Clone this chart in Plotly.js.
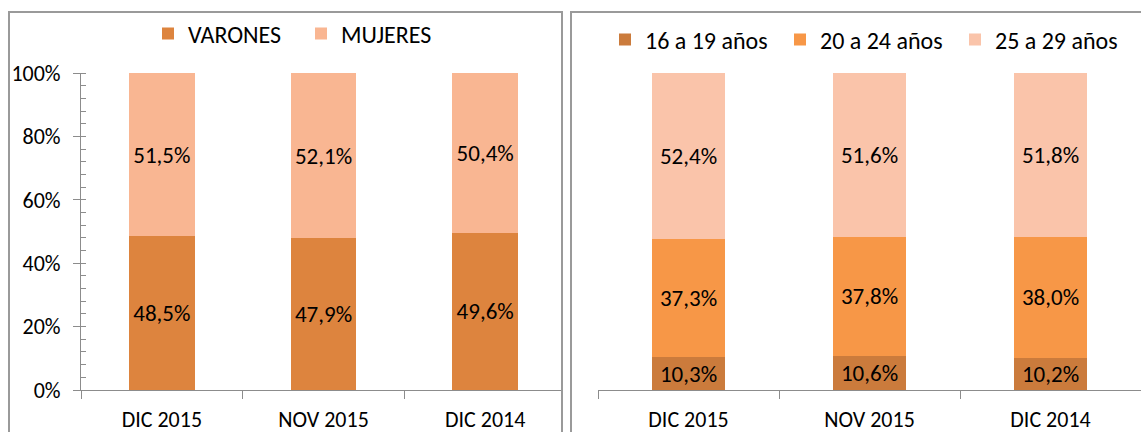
<!DOCTYPE html>
<html><head><meta charset="utf-8">
<script src="https://cdn.plot.ly/plotly-3.0.1.min.js"></script>
<style>html,body{margin:0;padding:0;background:#fff}#chart{width:1141px;height:432px}</style>
</head><body><div id="chart"></div>
<script>
// ---- data ----
const categories = ['DIC 2015', 'NOV 2015', 'DIC 2014'];
const varones = [48.5, 47.9, 49.6];
const mujeres = [51.5, 52.1, 50.4];
const edad16a19 = [10.3, 10.6, 10.2];
const edad20a24 = [37.3, 37.8, 38.0];
const edad25a29 = [52.4, 51.6, 51.8];
const yTickValues = [0, 20, 40, 60, 80, 100];
const yTickLabels = ['0%', '20%', '40%', '60%', '80%', '100%'];
const seriesNamesLeft = ['VARONES', 'MUJERES'];
const seriesNamesRight = ['16 a 19 años', '20 a 24 años', '25 a 29 años'];

// ---- layout helpers ----
const W = 1141, H = 432;
const px = x => x / W;
const py = y => 1 - y / H;
const FONT = 'Carlito, Lato, "Open Sans", sans-serif';
const axisGray = '#8c8c8c';

function barTrace(vals, name, color, xa, ya, leg) {
  return {
    type: 'bar', x: categories, y: vals, name: name,
    xaxis: xa, yaxis: ya, legend: leg,
    marker: {color: color, line: {width: 0}},
    texttemplate: '%{y:.1f}%', textposition: 'inside',
    insidetextanchor: 'middle', textangle: 0, constraintext: 'none',
    textfont: {family: FONT, size: 23, color: '#000'},
    hoverinfo: 'skip'
  };
}

const data = [
  barTrace(varones, seriesNamesLeft[0], '#DD843E', 'x', 'y', 'legend'),
  barTrace(mujeres, seriesNamesLeft[1], '#F9B692', 'x', 'y', 'legend'),
  barTrace(edad16a19, seriesNamesRight[0], '#CB7B3C', 'x2', 'y2', 'legend2'),
  barTrace(edad20a24, seriesNamesRight[1], '#F79747', 'x2', 'y2', 'legend2'),
  barTrace(edad25a29, seriesNamesRight[2], '#FAC4AA', 'x2', 'y2', 'legend2')
];

const yDomain = [py(390), py(73)];
const xCommon = {
  type: 'category', tickson: 'boundaries', ticks: 'outside', ticklen: 8,
  tickcolor: axisGray, tickwidth: 1, showline: true, linecolor: axisGray, linewidth: 1,
  showgrid: false, zeroline: false, fixedrange: true, automargin: false,
  tickfont: {family: FONT, size: 22, color: '#000'}, ticklabelstandoff: 10
};

const layout = {
  width: W, height: H, margin: {l: 0, r: 0, t: 0, b: 0, pad: 0, autoexpand: false},
  paper_bgcolor: '#fff', plot_bgcolor: 'rgba(0,0,0,0)',
  barmode: 'stack', bargap: 0.595, separators: ', ',
  font: {family: FONT, size: 22, color: '#000'},
  xaxis: Object.assign({}, xCommon, {domain: [px(81), px(562)], range: [-0.5, 2.5 - 4 / 162], anchor: 'y'}),
  yaxis: {
    domain: yDomain, range: [0, 100], anchor: 'x', tickmode: 'array',
    tickvals: yTickValues, ticktext: yTickLabels, automargin: false,
    ticks: 'outside', ticklen: 7, tickcolor: axisGray, showline: true, linecolor: axisGray,
    showgrid: false, zeroline: false, fixedrange: true, ticklabelstandoff: 8,
    tickfont: {family: FONT, size: 22, color: '#000'},
    minor: {ticks: 'inside', tick0: 0, dtick: 4, ticklen: 5, tickcolor: axisGray, showgrid: false}
  },
  yaxis3: {
    overlaying: 'y', anchor: 'x', range: [0, 100], tickmode: 'array', tickvals: yTickValues,
    ticks: 'inside', ticklen: 5, tickcolor: axisGray, showticklabels: false,
    showline: false, showgrid: false, zeroline: false, fixedrange: true
  },
  xaxis2: Object.assign({}, xCommon, {domain: [px(598), 1], range: [-0.5, 2.5], anchor: 'y2'}),
  yaxis2: {domain: yDomain, range: [0, 100], anchor: 'x2', visible: false, fixedrange: true},
  showlegend: true,
  legend: {
    orientation: 'h', x: px(148), xanchor: 'left', y: py(34), yanchor: 'middle',
    font: {family: FONT, size: 24, color: '#000'}, bgcolor: 'rgba(0,0,0,0)',
    entrywidth: 108, entrywidthmode: 'pixels',
    traceorder: 'normal', itemclick: false, itemdoubleclick: false
  },
  legend2: {
    orientation: 'h', x: px(605), xanchor: 'left', y: py(40), yanchor: 'middle',
    font: {family: FONT, size: 24, color: '#000'}, bgcolor: 'rgba(0,0,0,0)',
    entrywidth: 130, entrywidthmode: 'pixels',
    traceorder: 'normal', itemclick: false, itemdoubleclick: false
  },
  shapes: [
    {type: 'rect', xref: 'paper', yref: 'paper', x0: px(9), x1: px(562), y0: py(445), y1: py(12),
     line: {color: '#9a9a9a', width: 2}, fillcolor: 'rgba(0,0,0,0)'},
    {type: 'rect', xref: 'paper', yref: 'paper', x0: px(571), x1: px(1160), y0: py(445), y1: py(12),
     line: {color: '#9a9a9a', width: 2}, fillcolor: 'rgba(0,0,0,0)'}
  ]
};

Plotly.newPlot('chart', data, layout, {displayModeBar: false, staticPlot: true});
</script>
</body></html>
